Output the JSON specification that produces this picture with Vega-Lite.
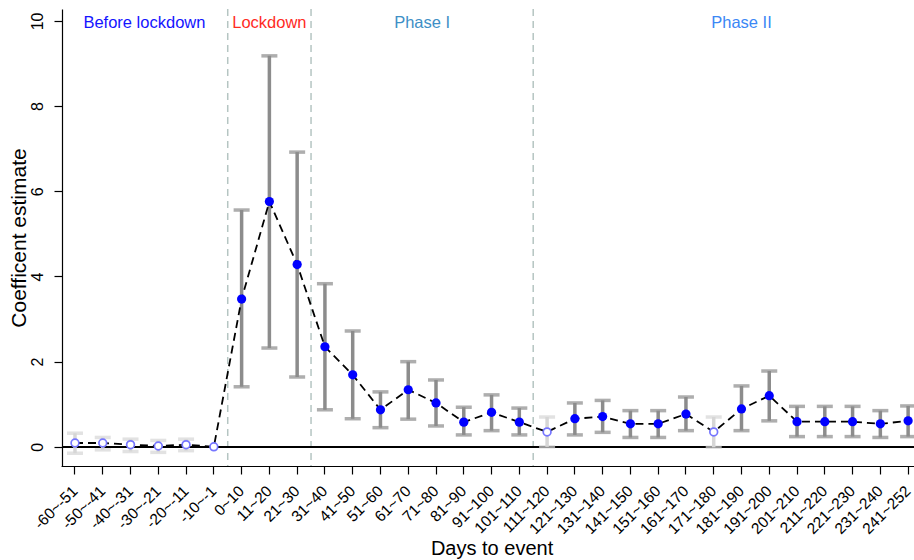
{
  "$schema": "https://vega.github.io/schema/vega-lite/v6.json",
  "autosize": "none",
  "width": 852,
  "height": 457,
  "padding": {"left": 62, "top": 9, "right": 0, "bottom": 94},
  "background": "white",
  "config": {
    "view": {"stroke": null},
    "font": "Liberation Sans",
    "axis": {"grid": false, "labelOverlap": false, "domainColor": "black", "domainWidth": 1.2, "tickColor": "black", "tickWidth": 1.2, "tickSize": 8, "labelColor": "black", "titleColor": "black", "labelFont": "Liberation Sans", "titleFont": "Liberation Sans", "titleFontWeight": "normal"}
  },
  "datasets": {
    "est": [
      {"period": "-60~-51", "coef": 0.09, "lo": -0.15, "hi": 0.32, "type": "reference"},
      {"period": "-50~-41", "coef": 0.09, "lo": -0.07, "hi": 0.22, "type": "reference"},
      {"period": "-40~-31", "coef": 0.05, "lo": -0.11, "hi": 0.18, "type": "reference"},
      {"period": "-30~-21", "coef": 0.02, "lo": -0.13, "hi": 0.15, "type": "reference"},
      {"period": "-20~-11", "coef": 0.05, "lo": -0.09, "hi": 0.18, "type": "reference"},
      {"period": "-10~-1", "coef": 0.0, "lo": null, "hi": null, "type": "reference"},
      {"period": "0~10", "coef": 3.47, "lo": 1.41, "hi": 5.56, "type": "estimate"},
      {"period": "11~20", "coef": 5.76, "lo": 2.32, "hi": 9.18, "type": "estimate"},
      {"period": "21~30", "coef": 4.28, "lo": 1.64, "hi": 6.92, "type": "estimate"},
      {"period": "31~40", "coef": 2.35, "lo": 0.87, "hi": 3.83, "type": "estimate"},
      {"period": "41~50", "coef": 1.69, "lo": 0.66, "hi": 2.72, "type": "estimate"},
      {"period": "51~60", "coef": 0.87, "lo": 0.45, "hi": 1.29, "type": "estimate"},
      {"period": "61~70", "coef": 1.34, "lo": 0.65, "hi": 2.0, "type": "estimate"},
      {"period": "71~80", "coef": 1.03, "lo": 0.49, "hi": 1.57, "type": "estimate"},
      {"period": "81~90", "coef": 0.58, "lo": 0.28, "hi": 0.93, "type": "estimate"},
      {"period": "91~100", "coef": 0.81, "lo": 0.38, "hi": 1.22, "type": "estimate"},
      {"period": "101~110", "coef": 0.58, "lo": 0.28, "hi": 0.91, "type": "estimate"},
      {"period": "111~120", "coef": 0.35, "lo": 0.0, "hi": 0.7, "type": "reference"},
      {"period": "121~130", "coef": 0.66, "lo": 0.28, "hi": 1.03, "type": "estimate"},
      {"period": "131~140", "coef": 0.71, "lo": 0.34, "hi": 1.09, "type": "estimate"},
      {"period": "141~150", "coef": 0.54, "lo": 0.22, "hi": 0.85, "type": "estimate"},
      {"period": "151~160", "coef": 0.54, "lo": 0.22, "hi": 0.85, "type": "estimate"},
      {"period": "161~170", "coef": 0.77, "lo": 0.38, "hi": 1.17, "type": "estimate"},
      {"period": "171~180", "coef": 0.35, "lo": -0.01, "hi": 0.7, "type": "reference"},
      {"period": "181~190", "coef": 0.89, "lo": 0.38, "hi": 1.43, "type": "estimate"},
      {"period": "191~200", "coef": 1.2, "lo": 0.61, "hi": 1.78, "type": "estimate"},
      {"period": "201~210", "coef": 0.59, "lo": 0.24, "hi": 0.95, "type": "estimate"},
      {"period": "211~220", "coef": 0.59, "lo": 0.24, "hi": 0.95, "type": "estimate"},
      {"period": "221~230", "coef": 0.59, "lo": 0.24, "hi": 0.95, "type": "estimate"},
      {"period": "231~240", "coef": 0.54, "lo": 0.22, "hi": 0.85, "type": "estimate"},
      {"period": "241~252", "coef": 0.61, "lo": 0.24, "hi": 0.96, "type": "estimate"}
    ],
    "phases": [
      {"phase": "Before lockdown", "at": "-30~-21", "anchor": "edge"},
      {"phase": "Lockdown", "at": "11~20", "anchor": "center"},
      {"phase": "Phase I", "at": "71~80", "anchor": "edge"},
      {"phase": "Phase II", "at": "181~190", "anchor": "center"}
    ],
    "breaks": [
      {"at": "0~10"},
      {"at": "31~40"},
      {"at": "111~120"}
    ]
  },
  "encoding": {
    "x": {
      "field": "period", "type": "ordinal",
      "scale": {
        "type": "band",
        "domain": ["-60~-51","-50~-41","-40~-31","-30~-21","-20~-11","-10~-1","0~10","11~20","21~30","31~40","41~50","51~60","61~70","71~80","81~90","91~100","101~110","111~120","121~130","131~140","141~150","151~160","161~170","171~180","181~190","191~200","201~210","211~220","221~230","231~240","241~252"],
        "range": [-0.9, 860],
        "paddingInner": 0,
        "paddingOuter": 0
      },
      "axis": {
        "title": "Days to event",
        "labelAngle": -45,
        "labelAlign": "right",
        "labelBaseline": "middle",
        "labelFontSize": 15.5,
        "labelPadding": 14,
        "labelOverlap": false,
        "labelFlush": false,
        "titleFontSize": 20,
        "titleY": 82,
        "titleBaseline": "middle"
      }
    }
  },
  "layer": [
    {
      "data": {"name": "breaks"},
      "mark": {"type": "rule", "color": "#b5c5c2", "strokeWidth": 1.5, "strokeDash": [7, 5]},
      "encoding": {
        "x": {"field": "at", "type": "ordinal", "bandPosition": 0}
      }
    },
    {
      "data": {"name": "est"},
      "mark": {"type": "rule", "color": "black", "strokeWidth": 1.5},
      "encoding": {"x": null, "y": {"datum": 0, "type": "quantitative"}}
    },
    {
      "data": {"name": "est"},
      "mark": {"type": "rule", "strokeWidth": 3.5},
      "encoding": {
        "y": {"field": "lo", "type": "quantitative"},
        "y2": {"field": "hi"},
        "color": {"field": "type", "type": "nominal", "scale": {"domain": ["estimate", "reference"], "range": ["#8c8c8c", "#d6d6d6"]}, "legend": null}
      }
    },
    {
      "data": {"name": "est"},
      "mark": {"type": "tick", "orient": "horizontal", "size": 16, "thickness": 3.5},
      "encoding": {
        "y": {"field": "lo", "type": "quantitative"},
        "color": {"field": "type", "type": "nominal", "scale": {"domain": ["estimate", "reference"], "range": ["#8c8c8c", "#d6d6d6"]}, "legend": null}
      }
    },
    {
      "data": {"name": "est"},
      "mark": {"type": "tick", "orient": "horizontal", "size": 16, "thickness": 3.5},
      "encoding": {
        "y": {"field": "hi", "type": "quantitative"},
        "color": {"field": "type", "type": "nominal", "scale": {"domain": ["estimate", "reference"], "range": ["#8c8c8c", "#d6d6d6"]}, "legend": null}
      }
    },
    {
      "data": {"name": "est"},
      "mark": {"type": "line", "color": "black", "strokeWidth": 1.8, "strokeDash": [8, 5]},
      "encoding": {
        "y": {
          "field": "coef", "type": "quantitative",
          "scale": {"domain": [-0.45, 10.28], "nice": false, "zero": false},
          "axis": {
            "title": "Coefficent estimate",
            "values": [0, 2, 4, 6, 8, 10],
            "labelAngle": -90,
            "labelAlign": "center",
            "labelBaseline": "bottom",
            "labelFontSize": 16,
            "labelPadding": 9,
            "labelFlush": false,
            "titleFontSize": 21,
            "titlePadding": 0
          }
        }
      }
    },
    {
      "data": {"name": "est"},
      "transform": [{"filter": "datum.type == 'estimate'"}],
      "mark": {"type": "point", "filled": true, "color": "#0000ff", "size": 85, "opacity": 1},
      "encoding": {
        "y": {"field": "coef", "type": "quantitative"}
      }
    },
    {
      "data": {"name": "est"},
      "transform": [{"filter": "datum.type == 'reference'"}],
      "mark": {"type": "point", "filled": false, "fill": "white", "fillOpacity": 1, "stroke": "#7676ff", "strokeWidth": 1.7, "size": 60, "opacity": 1},
      "encoding": {
        "y": {"field": "coef", "type": "quantitative"}
      }
    },
    {
      "data": {"name": "phases"},
      "transform": [{"filter": "datum.anchor == 'edge'"}],
      "mark": {"type": "text", "fontSize": 16.5, "baseline": "middle", "align": "center", "font": "Liberation Sans"},
      "encoding": {
        "x": {"field": "at", "type": "ordinal", "bandPosition": 0},
        "y": {"datum": 9.95, "type": "quantitative"},
        "text": {"field": "phase"},
        "color": {"field": "phase", "type": "nominal", "scale": {"domain": ["Before lockdown", "Lockdown", "Phase I", "Phase II"], "range": ["#1414ff", "#ff2b1f", "#3e8fc6", "#3b87f5"]}, "legend": null}
      }
    },
    {
      "data": {"name": "phases"},
      "transform": [{"filter": "datum.anchor == 'center'"}],
      "mark": {"type": "text", "fontSize": 16.5, "baseline": "middle", "align": "center", "font": "Liberation Sans"},
      "encoding": {
        "x": {"field": "at", "type": "ordinal", "bandPosition": 0.5},
        "y": {"datum": 9.95, "type": "quantitative"},
        "text": {"field": "phase"},
        "color": {"field": "phase", "type": "nominal", "scale": {"domain": ["Before lockdown", "Lockdown", "Phase I", "Phase II"], "range": ["#1414ff", "#ff2b1f", "#3e8fc6", "#3b87f5"]}, "legend": null}
      }
    }
  ],
  "resolve": {"scale": {"color": "independent"}}
}
